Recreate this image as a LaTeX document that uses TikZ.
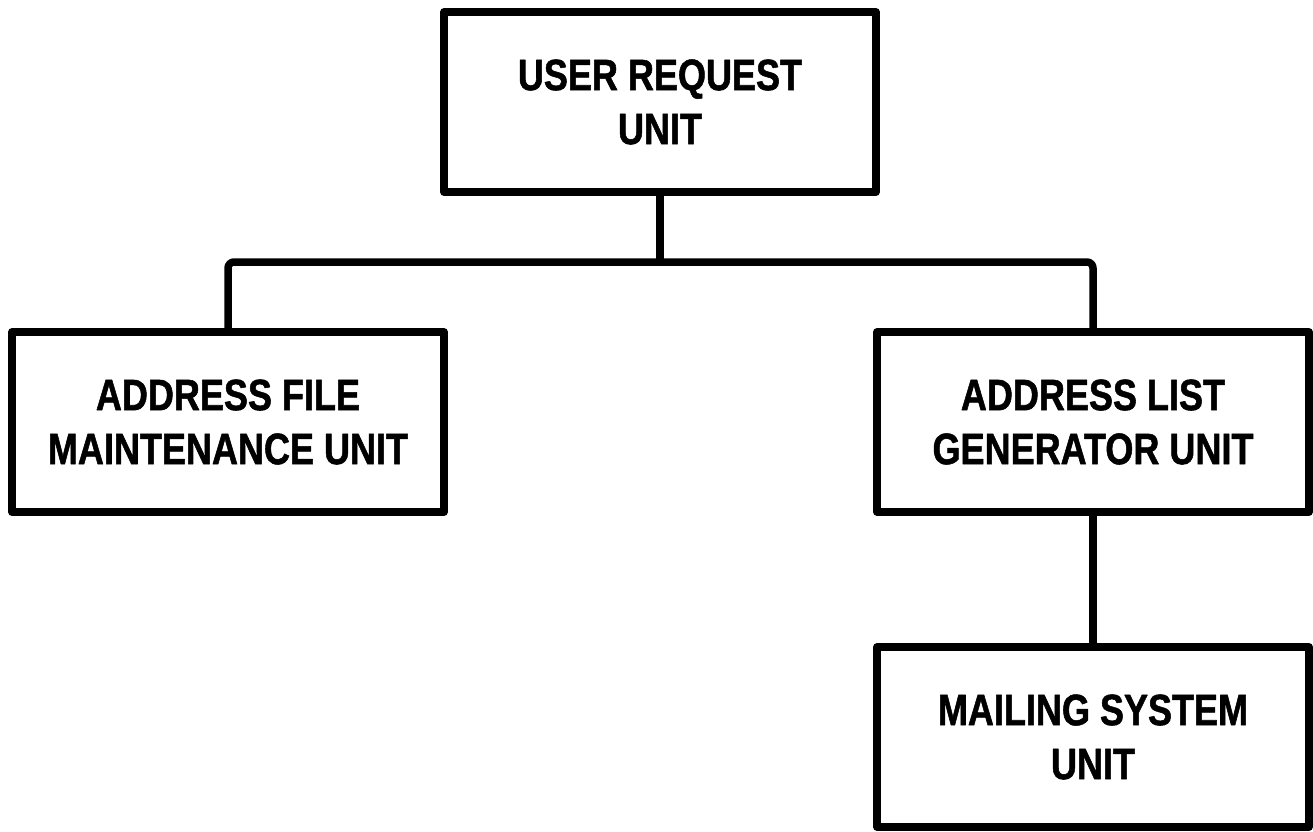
\documentclass[tikz,border=0pt]{standalone}
\usepackage{fontspec}
\setmainfont[FakeStretch=0.83]{Liberation Sans}
\newfontfamily\heavyfont[FakeStretch=0.82, FakeBold=1.2]{Liberation Sans}
\usepackage{tikz}
\usetikzlibrary{positioning, calc}

\tikzset{
    unit/.style={draw, line width=0.15cm, line join=round, minimum width=8.64cm,
        minimum height=3.6cm, align=center, inner sep=0pt,
        font=\fontsize{25}{30.7}\selectfont\heavyfont\bfseries},
    link/.style={line width=0.15cm, line join=round, rounded corners=0.12cm}
}

\begin{document}
\begin{tikzpicture}[scale=1.0]
    \useasboundingbox (0,0) rectangle (26.26,-16.62);
    \coordinate (bus) at (13.2,-5.24);
    \node[unit] (user) at (13.2,-2.04) {USER REQUEST\\UNIT};
    \node[unit] (file) at (4.56,-8.44) {ADDRESS FILE\\MAINTENANCE UNIT};
    \node[unit] (list) at (21.86,-8.44) {ADDRESS LIST\\GENERATOR UNIT};
    \node[unit] (mail) at (21.86,-14.74) {MAILING SYSTEM\\UNIT};
    % tree connectors
    \draw[link] (user.south) -- (bus);
    \draw[link] (file.north) |- (bus) -| (list.north);
    \draw[link] (list.south) -- (mail.north);
\end{tikzpicture}
\end{document}
